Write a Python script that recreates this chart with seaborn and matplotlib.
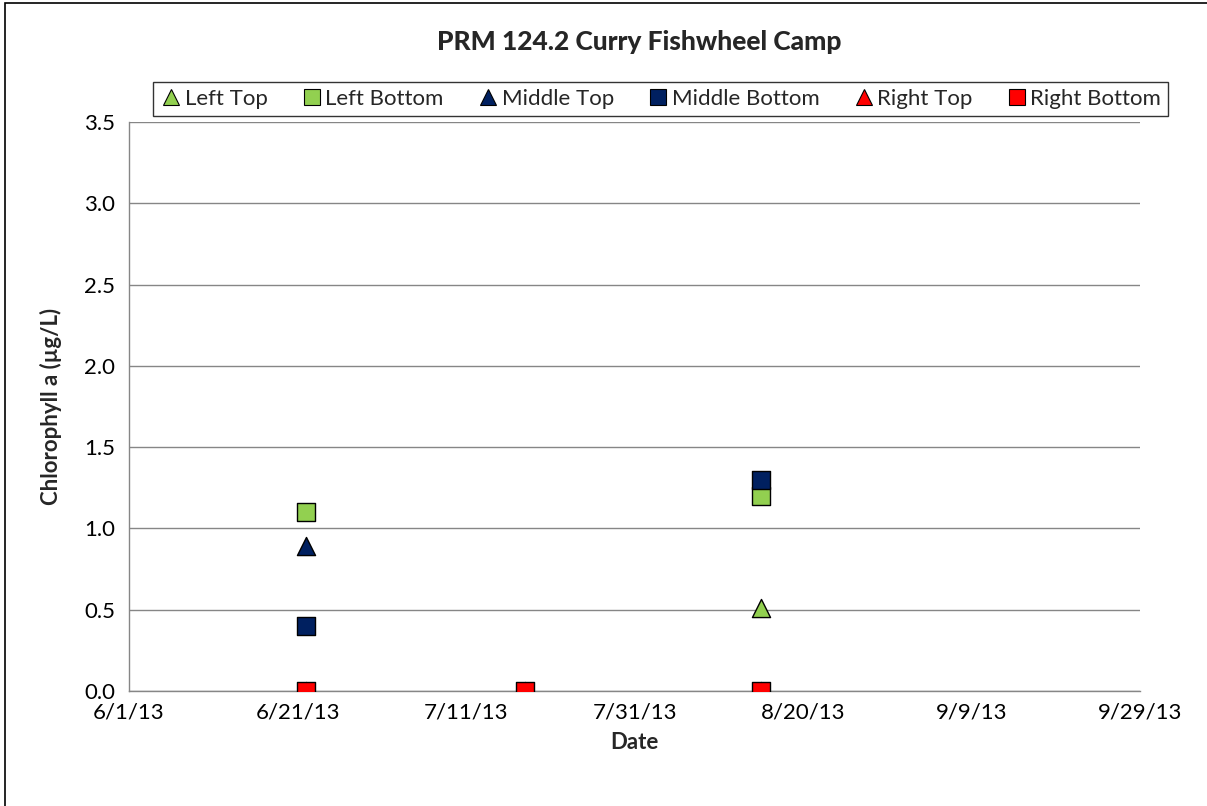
import numpy as np
import pandas as pd
import matplotlib
matplotlib.use("Agg")
import matplotlib.pyplot as plt
import matplotlib.dates as mdates
from matplotlib.ticker import FuncFormatter, MultipleLocator
from matplotlib.patches import Rectangle
import seaborn as sns

# Sample dates and chlorophyll a readings (µg/L) per sampling position
dates = ["2013-06-22", "2013-07-18", "2013-08-15"]
left_top = [np.nan, np.nan, 0.51]
left_bottom = [1.10, np.nan, 1.20]
middle_top = [0.89, np.nan, np.nan]
middle_bottom = [0.40, np.nan, 1.30]
right_top = [0.0, 0.0, 0.0]
right_bottom = [0.0, 0.0, 0.0]

series_names = ["Left Top", "Left Bottom", "Middle Top", "Middle Bottom",
                "Right Top", "Right Bottom"]
series_values = [left_top, left_bottom, middle_top, middle_bottom,
                 right_top, right_bottom]
series_colors = ["#92D050", "#92D050", "#002060", "#002060", "#FF0000", "#FF0000"]
series_markers = ["^", "s", "^", "s", "^", "s"]

title = "PRM 124.2 Curry Fishwheel Camp"
x_label = "Date"
y_label = "Chlorophyll a (µg/L)"

rows = []
for name, vals in zip(series_names, series_values):
    for d, v in zip(dates, vals):
        rows.append({"Date": pd.Timestamp(d), "Value": v, "Series": name})
df = pd.DataFrame(rows).dropna()

sns.set_theme(style="white")
plt.rcParams["font.family"] = ["Lato", "DejaVu Sans"]

fig = plt.figure(figsize=(12.07, 8.06), dpi=100)
ax = fig.add_axes([0.1069, 0.1427, 0.8376, 0.7059])

grid_color = "#868686"
handles = []
for name, color, marker in zip(series_names, series_colors, series_markers):
    sub = df[df["Series"] == name]
    sns.scatterplot(data=sub, x="Date", y="Value", ax=ax, color=color,
                    marker=marker, s=170, edgecolor="black", linewidth=1.0,
                    zorder=3, legend=False)
    handles.append(plt.Line2D([], [], linestyle="none", marker=marker,
                              markersize=11.5, markerfacecolor=color,
                              markeredgecolor="black", markeredgewidth=0.8,
                              label=name))

# Axes limits, ticks and formatting
start = mdates.date2num(pd.Timestamp("2013-06-01"))
end = mdates.date2num(pd.Timestamp("2013-09-29"))
ax.set_xlim(start, end)
ax.set_xticks(np.arange(start, end + 1, 20))
ax.xaxis.set_major_formatter(FuncFormatter(
    lambda v, _: "{d.month}/{d.day}/{y}".format(d=mdates.num2date(v),
                                                 y=mdates.num2date(v).strftime("%y"))))
ax.set_ylim(0, 3.5)
ax.yaxis.set_major_locator(MultipleLocator(0.5))
ax.yaxis.set_major_formatter(FuncFormatter(lambda v, _: f"{v:.1f}"))

ax.grid(axis="y", color=grid_color, linewidth=1.0)
ax.grid(axis="x", visible=False)
ax.set_axisbelow(True)
for side in ["top", "right"]:
    ax.spines[side].set_visible(False)
for side in ["left", "bottom"]:
    ax.spines[side].set_color(grid_color)
    ax.spines[side].set_linewidth(1.0)
ax.tick_params(axis="both", direction="out", length=6, width=1.0,
               color=grid_color, labelsize=16, labelcolor="black", pad=4)
ax.tick_params(axis="x", pad=2)

ax.set_xlabel(x_label, fontsize=16, fontweight="bold", labelpad=7)
ax.set_ylabel(y_label, fontsize=16, fontweight="bold", labelpad=16)

fig.text(0.53, 0.948, title, ha="center", va="center", fontsize=19,
         fontweight="black")

leg = fig.legend(handles=handles, loc="center", bbox_to_anchor=(0.547, 0.877),
                 ncol=6, frameon=True, fancybox=False, fontsize=16,
                 handletextpad=0.05, columnspacing=1.45, handlelength=1.1,
                 borderpad=0.3, borderaxespad=0)
leg.get_frame().set_edgecolor("black")
leg.get_frame().set_linewidth(1.0)

# Chart frame around the whole figure
fig.patches.append(Rectangle((0.004, -0.05), 1.05, 1.046, transform=fig.transFigure,
                             fill=False, edgecolor="black", linewidth=1.2))

fig.savefig("out.png", dpi=100)
